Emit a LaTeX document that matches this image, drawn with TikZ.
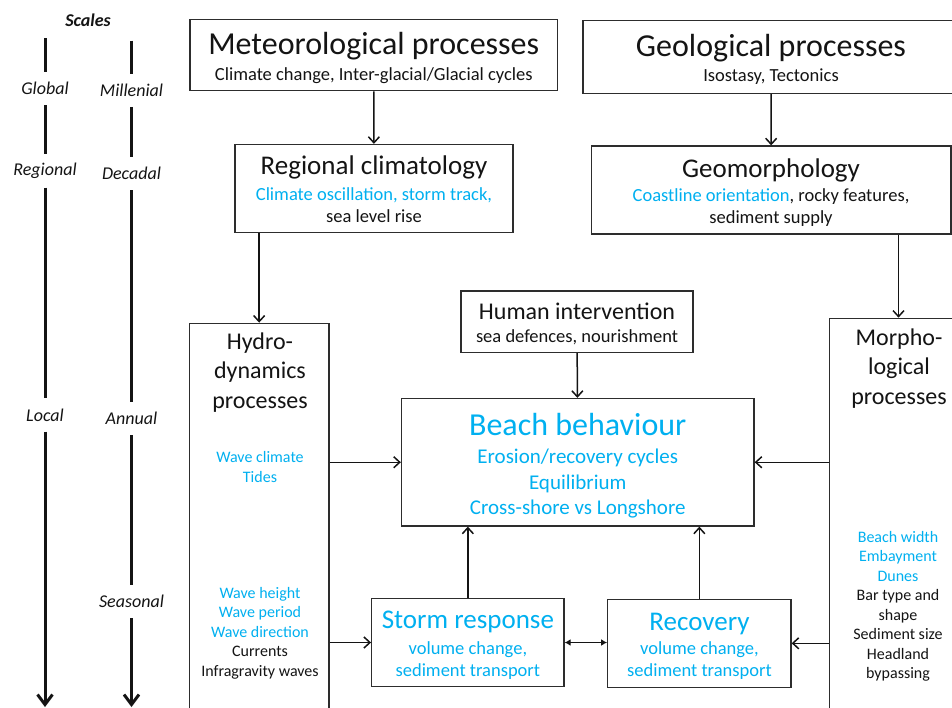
\documentclass[tikz,border=0pt]{standalone}
\usepackage{fontspec}
\setmainfont{Carlito}
\usepackage{xcolor}
\usepackage{tikz}
\usetikzlibrary{arrows.meta,calc}
\definecolor{ink}{RGB}{20,20,20}
\definecolor{boxline}{RGB}{45,45,45}
\definecolor{skyblue}{RGB}{0,176,240}
\tikzset{
  box/.style={draw=boxline,line width=1.3pt,fill=white,inner sep=0pt},
  flow/.style={-{Straight Barb[length=6pt,width=11pt]},line width=1.5pt,draw=ink},
  twoway/.style={{Latex[length=6pt,width=7pt]}-{Latex[length=6pt,width=7pt]},line width=1.5pt,draw=ink},
  scaleline/.style={line width=3pt,draw=ink},
  scaledown/.style={scaleline,-{Straight Barb[length=10pt,width=15pt]}},
  scalename/.style={font=\itshape\fontsize{18}{22}\selectfont,text=ink,minimum height=33pt,inner sep=0pt},
  bigtitle/.style={font=\fontsize{32}{38}\selectfont,text=ink,inner sep=0pt},
  midtitle/.style={font=\fontsize{27}{32}\selectfont,text=ink,inner sep=0pt},
  sidetitle/.style={font=\fontsize{24}{29.5}\selectfont,text=ink,align=center,inner sep=0pt},
  detail/.style={font=\fontsize{18.5}{22}\selectfont,text=ink,align=center,inner sep=0pt},
  beachline/.style={font=\fontsize{21}{25.5}\selectfont,text=skyblue,align=center,inner sep=0pt},
  listtext/.style={font=\fontsize{16}{19.5}\selectfont,text=ink,align=center,inner sep=0pt}
}
\begin{document}
\begin{tikzpicture}[x=1pt,y=1pt]
  \useasboundingbox (0,0) rectangle (952,-708);
  % scales
  \node[font=\bfseries\itshape\fontsize{18}{22}\selectfont,text=ink] (scales) at (88,-20.5) {Scales};
  \coordinate (c1top) at (45,-38.3);
  \coordinate (c1bot) at (45,-707);
  \node[scalename] (global) at (45,-88.4) {Global};
  \node[scalename] (regionalS) at (45,-171) {Regional};
  \node[scalename] (local) at (45,-415) {Local};
  \draw[scaleline] (c1top) -- (global);
  \draw[scaleline] (global) -- (regionalS);
  \draw[scaleline] (regionalS) -- (local);
  \draw[scaledown] (local) -- (c1bot);
  \coordinate (c2top) at (131.5,-40.7);
  \coordinate (c2bot) at (131.5,-707);
  \node[scalename] (millenial) at (131.5,-90.3) {Millenial};
  \node[scalename] (decadal) at (131.5,-173.7) {Decadal};
  \node[scalename] (annual) at (131.5,-418.3) {Annual};
  \node[scalename] (seasonal) at (131.5,-601.7) {Seasonal};
  \draw[scaleline] (c2top) -- (millenial);
  \draw[scaleline] (millenial) -- (decadal);
  \draw[scaleline] (decadal) -- (annual);
  \draw[scaleline] (annual) -- (seasonal);
  \draw[scaledown] (seasonal) -- (c2bot);
  % boxes
  \node[box,minimum width=367.5pt,minimum height=71.4pt] (meteo) at (373.75,-55) {};
  \node[box,minimum width=376pt,minimum height=73pt] (geo) at (771,-57) {};
  \node[box,minimum width=278pt,minimum height=88pt] (regional) at (374,-188.5) {};
  \node[box,minimum width=359.5pt,minimum height=88pt] (geomorph) at (771.25,-190) {};
  \node[box,minimum width=232pt,minimum height=61.5pt] (human) at (577,-321.75) {};
  \node[box,minimum width=352.5pt,minimum height=127.5pt] (beach) at (577.75,-462.25) {};
  \node[box,minimum width=139.7pt,minimum height=406.7pt] (hydro) at (259.15,-526.65) {};
  \node[box,minimum width=138.4pt,minimum height=411.7pt] (morpho) at (898.5,-524.15) {};
  \node[box,minimum width=192.3pt,minimum height=88.4pt] (storm) at (467.85,-642.5) {};
  \node[box,minimum width=183.3pt,minimum height=88pt] (recovery) at (699.35,-643.3) {};
  % texts
  \node[bigtitle] (meteoT) at (373.75,-46) {Meteorological processes};
  \node[detail] (meteoD) at (373.75,-76) {Climate change, Inter-glacial/Glacial cycles};
  \node[bigtitle] (geoT) at (771,-48) {Geological processes};
  \node[detail] (geoD) at (771,-77) {Isostasy, Tectonics};
  \node[midtitle] (regionalT) at (374,-167) {Regional climatology};
  \node[detail] (regionalD) at (374,-205) {\textcolor{skyblue}{Climate oscillation, storm track,}\\sea level rise};
  \node[midtitle] (geomorphT) at (771,-170) {Geomorphology};
  \node[detail] (geomorphD) at (771,-208) {\textcolor{skyblue}{Coastline orientation}, rocky features,\\sediment supply};
  \node[sidetitle] (humanT) at (577,-311.7) {Human intervention};
  \node[detail] (humanD) at (577,-337) {sea defences, nourishment};
  \node[bigtitle,text=skyblue] (beachT) at (577.75,-425) {Beach behaviour};
  \node[beachline] (beachD) at (577.75,-484) {Erosion/recovery cycles\\Equilibrium\\Cross-shore vs Longshore};
  \node[sidetitle] (hydroT) at (260,-372.5) {Hydro-\\dynamics\\processes};
  \node[listtext,text=skyblue] (hydroD) at (260,-467) {Wave climate\\Tides};
  \node[listtext] (hydroW) at (260,-633) {\textcolor{skyblue}{Wave height}\\\textcolor{skyblue}{Wave period}\\\textcolor{skyblue}{Wave direction}\\Currents\\Infragravity waves};
  \node[sidetitle] (morphoT) at (899,-368.5) {Morpho-\\logical\\processes};
  \node[listtext] (morphoD) at (898,-606.5) {\textcolor{skyblue}{Beach width}\\\textcolor{skyblue}{Embayment}\\\textcolor{skyblue}{Dunes}\\Bar type and\\shape\\Sediment size\\Headland\\bypassing};
  \node[midtitle,text=skyblue] (stormT) at (467.85,-622) {Storm response};
  \node[detail,text=skyblue] (stormD) at (467.85,-661) {volume change,\\sediment transport};
  \node[midtitle,text=skyblue] (recoveryT) at (699.5,-624) {Recovery};
  \node[detail,text=skyblue] (recoveryD) at (699.5,-661) {volume change,\\sediment transport};
  % connectors
  \draw[flow] (meteo) -- (regional);
  \draw[flow] (geo) -- (geomorph);
  \draw[flow] (regional.south -| hydro.north) -- (hydro.north);
  \draw[flow] (geomorph.south -| morpho.north) -- (morpho.north);
  \draw[flow] (human) -- (beach);
  \draw[flow] (hydro.east |- beach.west) -- (beach.west);
  \draw[flow] (hydro.east |- storm.west) -- (storm.west);
  \draw[flow] (morpho.west |- beach.east) -- (beach.east);
  \draw[flow] (morpho.west |- recovery.east) -- (recovery.east);
  \draw[flow] (storm.north) -- (storm.north |- beach.south);
  \draw[flow] (recovery.north) -- (recovery.north |- beach.south);
  \draw[twoway] (storm.east) -- (storm.east -| recovery.west);
\end{tikzpicture}
\end{document}
